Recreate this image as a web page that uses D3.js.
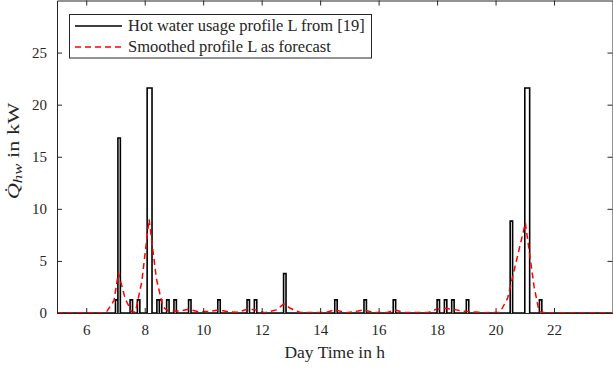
<html>
<head>
  <meta charset="utf-8">
  <script src="https://d3js.org/d3.v7.min.js"></script>
  <style>
    body { margin: 0; background: white; }
    text { font-family: "Liberation Serif", "Times New Roman", serif; fill: #262626; }
  </style>
</head>
<body>
<svg id="chart" width="613" height="371"></svg>
<script>
// tapping events of profile L (start in h, end in h, power in kW)
var tapStart = [7.0, 7.0833, 7.5, 7.75, 8.0833, 8.4167, 8.5, 8.75, 9.0, 9.5, 10.5, 11.5, 11.75, 12.75, 14.5, 15.5, 16.5, 18.0, 18.25, 18.5, 19.0, 20.5, 21.0, 21.5];
var tapEnd   = [7.0833, 7.1667, 7.5833, 7.8333, 8.25, 8.5, 8.5833, 8.8333, 9.0833, 9.5833, 10.5833, 11.5833, 11.8333, 12.8333, 14.5833, 15.5833, 16.5833, 18.0833, 18.3333, 18.5833, 19.0833, 20.5833, 21.1667, 21.5833];
var tapPower = [1.26, 16.8, 1.26, 1.26, 21.6, 1.26, 1.26, 1.26, 1.26, 1.26, 1.26, 1.26, 1.26, 3.78, 1.26, 1.26, 1.26, 1.26, 1.26, 1.26, 1.26, 8.82, 21.6, 1.26];

// smoothed forecast
var smoothT = [5, 6.6, 6.69, 6.95, 7.1, 7.33, 7.55, 7.68, 7.9, 8.15, 8.4, 8.62, 8.8, 9.2, 9.5, 9.8, 10.2, 10.55, 10.9, 11.16, 11.5, 11.8, 12.1, 12.5, 12.76, 12.98, 13.32, 14.2, 14.5, 14.9, 15.3, 15.5, 15.8, 16.3, 16.55, 16.9, 17.7, 17.97, 18.31, 18.65, 18.99, 19.27, 19.6, 20.15, 20.41, 21.02, 21.32, 21.49, 21.7, 24];
var smoothQ = [0.02, 0.02, 0.1, 1.2, 3.85, 1.4, 0.12, 0.1, 3.0, 9.0, 3.3, 0.6, 0.2, 0.2, 0.35, 0.15, 0.15, 0.3, 0.1, 0.07, 0.35, 0.3, 0.03, 0.3, 0.86, 0.45, 0.05, 0.05, 0.3, 0.03, 0.2, 0.3, 0.05, 0.05, 0.3, 0.05, 0.05, 0.35, 0.45, 0.3, 0.15, 0.1, 0.03, 0.05, 1.4, 8.65, 2.5, 0.12, 0.02, 0.02];

var xTicks = [6, 8, 10, 12, 14, 16, 18, 20, 22];
var yTicks = [0, 5, 10, 15, 20, 25];

var svg = d3.select("#chart");
var L = 57, R = 612.5, T = 0.5, B = 313;
var x = d3.scaleLinear().domain([5, 24]).range([L, R]);
var y = d3.scaleLinear().domain([0, 30]).range([B, T]);

// stepped profile points
var prof = [[5, 0]];
tapStart.forEach(function(s, i) {
    prof.push([s, tapPower[i]]);
    prof.push([tapEnd[i], 0]);
});
prof.push([24, 0]);

svg.append("clipPath").attr("id", "pc").append("rect")
    .attr("x", L).attr("y", T).attr("width", R - L).attr("height", B - T);
var g = svg.append("g").attr("clip-path", "url(#pc)");

g.append("path").datum(prof)
    .attr("fill", "none").attr("stroke", "black").attr("stroke-width", 1.6)
    .attr("d", d3.line().x(d => x(d[0])).y(d => y(d[1])).curve(d3.curveStepAfter));

g.append("path").datum(smoothT.map((t, i) => [t, smoothQ[i]]))
    .attr("fill", "none").attr("stroke", "red").attr("stroke-width", 1.5)
    .attr("stroke-dasharray", "6,4")
    .attr("d", d3.line().x(d => x(d[0])).y(d => y(d[1])));

// axes, MATLAB style with inward ticks on all sides
var ax = svg.append("g");
var axB = ax.append("g").attr("transform", "translate(0," + B + ")")
    .call(d3.axisBottom(x).tickValues(xTicks).tickSizeInner(-5).tickSizeOuter(0).tickPadding(11));
ax.append("g").attr("transform", "translate(0," + T + ")")
    .call(d3.axisTop(x).tickValues(xTicks).tickSizeInner(-5).tickSizeOuter(0).tickFormat(""));
var axL = ax.append("g").attr("transform", "translate(" + L + ",0)")
    .call(d3.axisLeft(y).tickValues(yTicks).tickSizeInner(-5).tickSizeOuter(0).tickPadding(10));
ax.append("g").attr("transform", "translate(" + R + ",0)")
    .call(d3.axisRight(y).tickValues(yTicks).tickSizeInner(-5).tickSizeOuter(0).tickFormat(""));
ax.selectAll("path, line").attr("stroke", "#262626");
ax.selectAll("g").attr("font-family", "Liberation Serif").attr("font-size", 15);
ax.selectAll(".tick text").attr("fill", "#262626");

svg.append("text").attr("x", (L + R) / 2).attr("y", 358)
    .attr("text-anchor", "middle").attr("font-size", 17.5).text("Day Time in h");

var yl = svg.append("text").attr("transform", "translate(19,151) rotate(-90) scale(1.4,1)")
    .attr("text-anchor", "middle").attr("font-size", 16);
yl.append("tspan").attr("font-style", "italic").text("Q\u0307");
yl.append("tspan").attr("font-style", "italic").attr("font-size", 12).attr("dy", 3).text("hw");
yl.append("tspan").attr("dy", -3).text(" in kW");

// legend
var lg = svg.append("g");
lg.append("rect").attr("x", 69.5).attr("y", 14.5).attr("width", 302).attr("height", 43.5)
    .attr("fill", "white").attr("stroke", "#262626");
var names = ["Hot water usage profile L from [19]", "Smoothed profile L as forecast"];
var cols = ["black", "red"], dash = [null, "6,4"], rowY = [26, 47];
names.forEach(function(n, i) {
    lg.append("line").attr("x1", 75).attr("x2", 122).attr("y1", rowY[i]).attr("y2", rowY[i])
        .attr("stroke", cols[i]).attr("stroke-width", 1.5).attr("stroke-dasharray", dash[i]);
    lg.append("text").attr("x", 128).attr("y", rowY[i] + 5).attr("font-size", 16.5).text(n);
});
</script>
</body>
</html>
